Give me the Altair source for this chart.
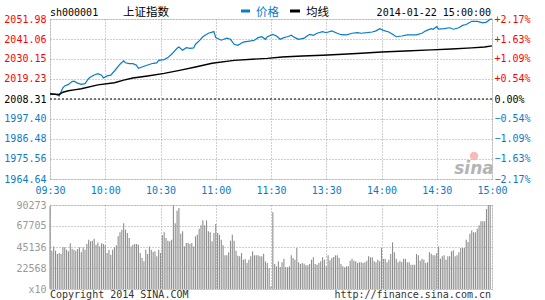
import altair as alt
import pandas as pd

# ---------------- data ----------------
price_minutes = [0, 3, 5, 6, 7, 8, 10, 12, 13, 15, 17, 19, 21, 22, 24, 26, 28, 29, 31, 33,
                 35, 38, 40, 41, 43, 45, 47, 48, 50, 53, 56, 58, 59, 62, 64, 66, 69, 70, 72, 74,
                 76, 78, 79, 81, 83, 86, 89, 90, 93, 96, 98, 100, 102, 105, 109, 111, 113, 115, 117, 118,
                 121, 123, 125, 127, 129, 131, 133, 135, 138, 139, 141, 143, 145, 148, 150, 153, 156, 158, 161, 164,
                 167, 169, 172, 175, 177, 179, 181, 184, 186, 188, 191, 194, 197, 199, 202, 204, 207, 208, 210, 211,
                 214, 217, 219, 222, 224, 226, 229, 232, 235, 237, 239, 240]
price_values = [2011.4, 2010.9, 2010.0, 2012.2, 2014.5, 2015.4, 2016.3, 2017.8, 2018.0, 2017.0, 2016.3, 2016.7, 2019.5, 2020.3, 2021.4, 2022.1, 2021.3, 2019.8, 2020.9, 2021.3,
                2023.6, 2027.3, 2029.1, 2028.1, 2027.6, 2027.6, 2026.7, 2025.1, 2025.8, 2026.9, 2027.8, 2028.0, 2029.4, 2029.8, 2030.9, 2032.7, 2036.0, 2036.7, 2034.9, 2036.3,
                2036.0, 2036.2, 2038.2, 2040.0, 2042.3, 2044.2, 2045.1, 2041.8, 2040.4, 2041.5, 2040.9, 2038.2, 2037.6, 2039.4, 2040.0, 2040.4, 2041.8, 2042.3, 2040.9, 2042.3,
                2043.6, 2042.7, 2040.9, 2041.8, 2042.3, 2043.1, 2041.8, 2040.9, 2041.5, 2042.3, 2043.6, 2043.1, 2044.2, 2045.1, 2044.5, 2045.5, 2044.2, 2043.4, 2043.3, 2044.2,
                2044.5, 2044.2, 2044.5, 2044.9, 2045.5, 2046.7, 2045.8, 2044.9, 2043.6, 2042.3, 2042.7, 2043.3, 2043.3, 2043.3, 2044.2, 2045.5, 2046.7, 2046.4, 2047.8, 2046.4,
                2046.7, 2047.2, 2046.4, 2047.2, 2048.5, 2049.0, 2050.7, 2050.7, 2049.9, 2050.3, 2051.8, 2051.98]

avg_minutes = [0, 5, 7, 10, 14, 17, 26, 35, 40, 45, 53, 62, 71, 79, 88, 100, 118, 126, 137, 148,
               159, 169, 180, 193, 207, 218, 229, 236, 240]
avg_values = [2011.0, 2010.8, 2012.0, 2012.8, 2013.4, 2013.9, 2016.0, 2017.2, 2018.6, 2019.8, 2020.9, 2022.3, 2024.1, 2025.8, 2027.8, 2029.4, 2030.5, 2031.2, 2031.8, 2032.2,
              2032.7, 2033.3, 2034.0, 2034.5, 2035.1, 2035.6, 2036.2, 2036.7, 2037.3]

volumes = [89000, 41200, 45800, 41200, 37600, 38700, 37600, 44800, 44800, 42300,
           40500, 49100, 43300, 42300, 41200, 43000, 44800, 39400, 44800, 42300,
           48400, 53000, 51200, 51900, 54100, 47600, 50100, 45800, 49100, 48400,
           46900, 38700, 42300, 36900, 42300, 44800, 46900, 56600, 60900, 63800,
           70600, 63800, 60200, 54800, 45800, 47600, 48400, 48400, 47600, 38700,
           33300, 29700, 42300, 37600, 45800, 42300, 39800, 40500, 35100, 42300,
           38700, 57700, 60900, 54800, 51900, 51200, 53000, 89900, 70600, 84200,
           87000, 59500, 62000, 45800, 49400, 49400, 48400, 49400, 45800, 56600,
           58400,
           64800, 68400, 73800, 68400, 73800, 62000, 60900, 51200, 60200, 69800,
           60200, 58400, 53000, 46900, 36200, 36200, 39400, 51900, 58400, 51900,
           41200, 35800, 35100, 38700, 31500, 32200, 28000, 31500, 35100, 40500,
           36200, 36200, 36200, 35100, 35100, 38000, 29700, 28000, 22600, 3000,
           82400, 26900, 24400, 29700, 23600, 28700, 32600, 23600, 23300, 24400,
           36200, 33300, 31500, 44100, 28700, 26900, 28000, 27200, 25400, 25400,
           26900, 31500, 34000, 26900, 26100, 28000, 29700, 34000, 31500, 24400,
           36200, 30800, 33300, 34400, 36200, 36200, 33300, 26900, 24400, 23300,
           24400, 24400, 30400, 32600, 30400, 29700, 28000, 28700, 28700, 28000,
           28700, 30400, 35100, 34000, 34000, 29700, 28700, 31500, 29700, 44100,
           32600, 32600, 28700, 31500, 37600, 50100, 39400, 32600, 28700, 30400,
           29000, 32600, 32600, 28700, 28700, 26100, 26100, 26100, 37600, 36200,
           30400, 32600, 31500, 28000, 28700, 39400, 38000, 36200, 36200, 38700,
           45800, 32600, 35100, 36200, 31500, 35100, 35100, 40500, 41600, 35100,
           36200, 39400, 44100, 44100, 44100, 53000, 50500, 59500, 63000, 60900,
           60900, 64800, 68400, 72700, 72700, 72700, 86000, 89900, 90273]

time_labels = ["09:30", "10:00", "10:30", "11:00", "11:30", "13:30", "14:00", "14:30", "15:00"]
time_ticks = [0, 30, 60, 90, 120, 150, 180, 210, 240]
price_ticks = [1964.64, 1975.56, 1986.48, 1997.40, 2008.31, 2019.23, 2030.15, 2041.06, 2051.98]
vol_ticks = [0, 22568, 45136, 67705, 90273]
prev_close = 2008.31

header_code = "sh000001"
header_name = "上证指数"
legend_price = "价格"
legend_avg = "均线"
header_time = "2014-01-22 15:00:00"
footer_left = "Copyright 2014 SINA.COM"
footer_right = "http://finance.sina.com.cn"
watermark = "sina"

# ---------------- styling ----------------
FONT = "DejaVu Sans Mono"
CJK = "Noto Sans CJK SC"
BLUE = "#0A7CC8"
RED = "#FF0000"
GRID = "#A0A0A0"
GRAY = "#999999"
BAR = "#8E8E8E"
W = 442

price_df = pd.DataFrame({"m": price_minutes, "v": price_values})
avg_df = pd.DataFrame({"m": avg_minutes, "v": avg_values})
prev_df = pd.DataFrame({"v": [prev_close]})
vol_df = pd.DataFrame({"m": list(range(len(volumes))), "vol": volumes})

xscale = alt.Scale(domain=[0, 240], nice=False, zero=False)
yscale = alt.Scale(domain=[price_ticks[0], price_ticks[-1]], nice=False, zero=False)
vscale = alt.Scale(domain=[0, vol_ticks[-1]], nice=False)

label_expr = "[" + ",".join("'%s'" % t for t in time_labels) + "][round(datum.value/30)]"

x_axis_top = alt.Axis(values=time_ticks, labelExpr=label_expr, grid=True, gridDash=[1, 2],
                      gridColor=GRID, ticks=False, domain=False, labelColor=BLUE, labelFont=FONT,
                      labelFontSize=10, labelPadding=6, labelFlush=False, title=None)
x_axis_bot = alt.Axis(values=time_ticks, labels=False, grid=True, gridDash=[1, 2],
                      gridColor=GRID, ticks=False, domain=False, title=None)

color_cond = {"condition": [{"test": "datum.value > %.3f" % (prev_close + 0.001), "value": RED},
                            {"test": "datum.value < %.3f" % (prev_close - 0.001), "value": BLUE}],
              "value": "#000000"}

y_left = alt.Axis(values=price_ticks, format=".2f", grid=True, gridDash=[1, 2], gridColor=GRID,
                  ticks=False, domain=False, labelFont=FONT, labelFontSize=10, labelPadding=4,
                  labelColor=color_cond, title=None, labelFlush=False)
pct_expr = ("(datum.value > %.3f ? '+' : '') + format((datum.value - %s) / %s * 100, '.2f') + '%%'"
            % (prev_close + 0.001, prev_close, prev_close))
y_right = alt.Axis(values=price_ticks, orient="right", labelExpr=pct_expr, grid=False,
                   ticks=False, domain=False, labelFont=FONT, labelFontSize=10, labelPadding=2,
                   labelColor=color_cond, title=None, labelFlush=False)

price_line = alt.Chart(price_df).mark_line(color=BLUE, strokeWidth=1.2).encode(
    x=alt.X("m:Q", scale=xscale, axis=x_axis_top),
    y=alt.Y("v:Q", scale=yscale, axis=y_left),
)
avg_line = alt.Chart(avg_df).mark_line(color="#000000", strokeWidth=1.4).encode(
    x=alt.X("m:Q", scale=xscale),
    y=alt.Y("v:Q", scale=yscale, axis=None),
)
prev_rule = alt.Chart(prev_df).mark_rule(color="#000000", strokeDash=[2, 2], strokeWidth=1).encode(
    y=alt.Y("v:Q", scale=yscale, axis=y_right),
)


def txt(s, x, y, color="#000000", font=FONT, size=10, align="left", **kw):
    return alt.Chart(pd.DataFrame({"t": [s]})).mark_text(
        align=align, baseline="middle", font=font, fontSize=size, color=color, **kw
    ).encode(text="t:N", x=alt.value(x), y=alt.value(y))


def dash(x1, x2, y, color):
    return alt.Chart(pd.DataFrame({"t": [0]})).mark_rule(color=color, strokeWidth=3).encode(
        x=alt.value(x1), x2=alt.value(x2), y=alt.value(y))


header = [
    txt(header_code, 0, -6, size=10),
    txt(header_name, 73, -6, font=CJK, size=11.5),
    dash(191, 200, -8, BLUE),
    txt(legend_price, 206, -6, color=BLUE, font=CJK, size=11.5),
    dash(240, 250, -8, "#000000"),
    txt(legend_avg, 256, -6, font=CJK, size=11.5),
    txt(header_time, 441, -6, size=10, align="right"),
    txt(watermark, 424, 150, color="#B4B4B4", font="DejaVu Sans", size=17,
        align="center", fontStyle="italic", fontWeight="bold"),
    alt.Chart(pd.DataFrame({"t": [0]})).mark_point(filled=True, color="#F6A8A8", size=70, opacity=0.8).encode(
        x=alt.value(424), y=alt.value(137)),
]

top = alt.layer(price_line, avg_line, prev_rule, *header).resolve_axis(y="independent").properties(
    width=W, height=160)

vol_axis = alt.Axis(values=vol_ticks, labelExpr="datum.value == 0 ? 'x10' : format(datum.value, 'd')",
                    grid=True, gridDash=[1, 2], gridColor=GRID, ticks=False, domain=False,
                    labelFont=FONT, labelFontSize=10, labelColor=GRAY, labelPadding=4, title=None,
                    labelFlush=False)

vol_bars = alt.Chart(vol_df).mark_rule(color=BAR, strokeWidth=1.1).encode(
    x=alt.X("m:Q", scale=xscale, axis=x_axis_bot),
    y=alt.Y("vol:Q", scale=vscale, axis=vol_axis),
    y2=alt.datum(0),
)

bottom = alt.layer(
    vol_bars,
    txt(footer_left, 0, 90, color="#333333", size=10),
    txt(footer_right, W - 1, 90, color="#333333", size=10, align="right"),
).properties(width=W, height=84)

chart = alt.vconcat(top, bottom, spacing=3).properties(
    padding={"left": 3, "top": 6, "right": 4, "bottom": 0}
).configure_view(stroke=GRAY, strokeWidth=1).configure(background="#FFFFFF")

chart.save("out.html", embed_options={"renderer": "svg", "actions": False})
